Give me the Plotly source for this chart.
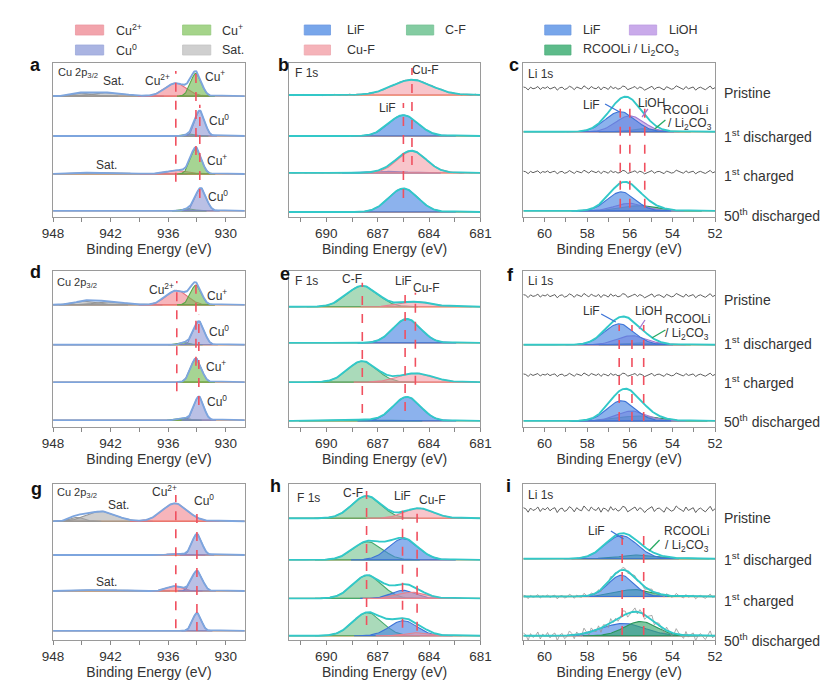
import numpy as np
import plotly.graph_objects as go

W, H = 831, 687
FONT = "Liberation Sans, Arial, sans-serif"

# ---------------- data ----------------
cu_range = [948, 928]
f_range = [692.2, 681]
li_range = [61, 52]
cu_ticks = [948, 945, 942, 939, 936, 933, 930]
cu_ticklabels = ["948", "", "942", "", "936", "", "930"]
f_ticks = [691.5, 690, 688.5, 687, 685.5, 684, 682.5, 681]
f_ticklabels = ["", "690", "", "687", "", "684", "", "681"]
li_ticks = [61, 60, 59, 58, 57, 56, 55, 54, 53, 52]
li_ticklabels = ["", "60", "", "58", "", "56", "", "54", "", "52"]
state_labels = ["Pristine", "1<sup>st</sup> discharged", "1<sup>st</sup> charged", "50<sup>th</sup> discharged"]

# fitted peaks per spectrum (top spectrum first): (species, centre eV, height, sigma eV)
a_offsets = [3.02, 1.97, 0.97, 0.0]
a_peaks = [
    [("Sat", 944.8, 0.08, 1.0), ("Sat", 942.2, 0.09, 1.6), ("Cu2+", 935.2, 0.34, 1.1), ("Cu+", 933.1, 0.60, 0.55)],
    [("Cu+", 933.6, 0.05, 0.5), ("Cu0", 932.7, 0.66, 0.5)],
    [("Sat", 943.0, 0.04, 2.5), ("Cu2+", 935.0, 0.10, 1.1), ("Cu+", 933.1, 0.68, 0.55)],
    [("Cu+", 933.8, 0.06, 0.5), ("Cu0", 932.6, 0.60, 0.55)],
]
a_lines = [(935.2, 0.77, 3.68), (933.1, 1.47, 3.68), (932.7, 0.34, 2.79)]

b_offsets = [3.08, 2.0, 1.03, 0.0]
b_peaks = [
    [("CuF", 685.0, 0.40, 1.15)],
    [("LiF", 685.5, 0.55, 0.85)],
    [("LiF", 686.2, 0.04, 0.8), ("CuF", 685.0, 0.57, 0.85)],
    [("LiF", 685.5, 0.62, 0.85)],
]
b_lines = [(685.5, 0.37, 2.87), (685.0, 1.24, 3.79)]

c_offsets = [3.23, 2.08, 1.02, 0.0]
c_peaks = [
    [],
    [("RCOOLi", 55.3, 0.08, 0.6), ("LiOH", 56.0, 0.42, 0.65), ("LiF", 56.45, 0.53, 0.7)],
    [],
    [("RCOOLi", 55.5, 0.14, 0.8), ("LiOH", 56.0, 0.20, 0.7), ("LiF", 56.4, 0.50, 0.65)],
]
c_lines = [(56.45, 0.08, 2.71), (56.0, 0.08, 2.71), (55.3, 0.08, 2.71)]

d_offsets = [3.03, 1.98, 1.0, 0.0]
d_peaks = [
    [("Sat", 944.5, 0.10, 1.2), ("Sat", 942.0, 0.08, 1.5), ("Cu2+", 935.1, 0.38, 1.1), ("Cu+", 933.1, 0.52, 0.55)],
    [("Cu+", 934.2, 0.06, 0.5), ("Cu0", 932.8, 0.62, 0.55)],
    [("Cu+", 933.1, 0.62, 0.55)],
    [("Cu+", 934.3, 0.05, 0.5), ("Cu0", 932.8, 0.62, 0.5)],
]
d_lines = [(935.1, 0.76, 3.66), (933.1, 1.43, 3.79), (932.8, 0.40, 2.77)]

e_offsets = [3.0, 2.05, 1.02, 0.0]
e_peaks = [
    [("CF", 687.9, 0.55, 0.9), ("CuF", 684.75, 0.13, 0.9)],
    [("LiF", 685.3, 0.63, 0.8)],
    [("CF", 687.9, 0.55, 0.85), ("CuF", 684.8, 0.23, 1.0)],
    [("CF", 688.0, 0.03, 1.0), ("LiF", 685.3, 0.63, 0.8)],
]
e_lines = [(687.9, 0.21, 3.63), (685.4, 0.26, 3.31), (684.8, 0.95, 3.37)]

f_offsets = [3.29, 2.0, 1.21, 0.0]
f_peaks = [
    [],
    [("RCOOLi", 55.3, 0.05, 0.6), ("LiOH", 55.9, 0.24, 0.7), ("LiF", 56.5, 0.55, 0.7)],
    [],
    [("RCOOLi", 55.6, 0.13, 0.9), ("LiOH", 55.9, 0.26, 0.7), ("LiF", 56.4, 0.53, 0.65)],
]
f_lines = [(56.5, 0.0, 2.52), (55.9, 0.0, 2.52), (55.35, 0.0, 2.52)]

g_offsets = [2.89, 2.0, 1.05, 0.0]
g_peaks = [
    [("Sat", 945.5, 0.10, 0.7), ("Sat", 943.0, 0.26, 1.5), ("Cu2+", 935.3, 0.47, 1.3)],
    [("Cu2+", 935.0, 0.03, 0.8), ("Cu0", 933.0, 0.55, 0.5)],
    [("Sat", 943.0, 0.03, 2.0), ("Cu2+", 935.3, 0.13, 0.8), ("Cu0", 933.0, 0.53, 0.55)],
    [("Cu0", 933.0, 0.47, 0.45)],
]
g_lines = [(935.2, 0.07, 3.58), (933.0, 0.0, 3.18)]

h_offsets = [3.05, 1.97, 0.97, 0.0]
h_peaks = [
    [("CF", 687.65, 0.58, 0.85), ("CuF", 684.6, 0.26, 0.85)],
    [("CF", 687.6, 0.47, 0.85), ("LiF", 685.5, 0.55, 0.85)],
    [("CF", 687.6, 0.60, 0.85), ("LiF", 685.5, 0.21, 0.7), ("CuF", 685.0, 0.16, 0.8)],
    [("CF", 687.6, 0.60, 0.85), ("LiF", 685.5, 0.39, 0.8), ("CuF", 684.6, 0.08, 0.7)],
]
h_lines = [(687.65, 0.28, 3.76), (685.55, 0.21, 3.44), (684.7, 0.13, 3.23)]

i_offsets = [3.28, 2.0, 1.02, 0.0]
i_peaks = [
    [],
    [("RCOOLi", 55.5, 0.10, 0.9), ("LiF", 56.4, 0.60, 0.75)],
    [("RCOOLi", 55.8, 0.18, 0.8), ("LiF", 56.4, 0.55, 0.6)],
    [("LiF", 56.3, 0.32, 1.0), ("RCOOLi", 55.5, 0.37, 0.75)],
]
i_lines = [(56.36, 0.02, 2.7), (55.35, 0.02, 2.7)]

# noise amplitude of the raw (grey) trace for each spectrum
a_noise = [0, 0, 0, 0]
b_noise = [0.02, 0, 0.01, 0]
c_noise = [0.06, 0, 0.05, 0]
f_noise = [0.06, 0, 0.05, 0]
i_noise = [0.09, 0, 0.07, 0.14]
NOISE = [0.2, -0.4, 0.9, 0.1, -0.7, -0.2, 0.4, 0.0, -0.9, 0.5, 0.2, -0.3, 0.7, -0.6, -0.1,
         0.3, 1.0, -0.2, -0.5, 0.1, 0.6, -0.8, -0.3, 0.4, 0.2, -0.6, 0.8, 0.3, -0.1, -0.9,
         0.0, 0.5, -0.4, 0.7, 0.2, -0.3, -0.7, 0.6, 0.9, -0.1, -0.5, 0.3, -0.2, 0.8, -0.6,
         0.1, 0.4, -0.8, 0.6, -0.3, 0.0, 0.7, -0.5, 0.2, 1.0, -0.4, -0.1, 0.5, -0.7, 0.3,
         0.8, -0.2, -0.6, 0.4, 0.1, -0.9, 0.5, 0.2, -0.4, 0.6, -0.1, 0.3, -0.6, 0.7, 0.0,
         -0.3, 0.4, -0.8, 0.2, 0.5]

# ---------------- styles ----------------
STY = {
    "Cu2+": ("rgba(240,120,132,0.55)", "rgb(230,110,122)"),
    "Cu+": ("rgba(112,186,80,0.62)", "rgb(90,165,70)"),
    "Cu0": ("rgba(140,150,212,0.6)", "rgb(120,130,200)"),
    "Sat": ("rgba(165,165,165,0.55)", "rgb(150,150,150)"),
    "LiF": ("rgba(70,130,226,0.62)", "rgb(60,115,215)"),
    "CF": ("rgba(100,188,130,0.55)", "rgb(70,170,110)"),
    "CuF": ("rgba(242,150,160,0.55)", "rgb(230,130,142)"),
    "LiOH": ("rgba(180,140,222,0.6)", "rgb(160,120,210)"),
    "RCOOLi": ("rgba(50,165,105,0.62)", "rgb(40,150,90)"),
}
ORANGE = "rgb(245,150,70)"
ENV_CU = "rgb(125,165,222)"
ENV_TEAL = "rgb(50,200,200)"
RED = "rgb(240,80,95)"
GREY_TXT = "#333333"

COLS = [(35, 232), (277, 474), (518, 715)]
ROWS = [(55, 209), (263, 419), (476, 632)]

panels = [
    dict(peaks=a_peaks, off=a_offsets, lines=a_lines, noise=a_noise, kind="cu", yr=[-0.16, 3.89]),
    dict(peaks=b_peaks, off=b_offsets, lines=b_lines, noise=b_noise, kind="f", yr=[-0.13, 3.92]),
    dict(peaks=c_peaks, off=c_offsets, lines=c_lines, noise=c_noise, kind="li", yr=[-0.16, 3.89]),
    dict(peaks=d_peaks, off=d_offsets, lines=d_lines, noise=a_noise, kind="cu", yr=[-0.18, 3.92]),
    dict(peaks=e_peaks, off=e_offsets, lines=e_lines, noise=[0, 0, 0, 0], kind="f", yr=[-0.16, 3.94]),
    dict(peaks=f_peaks, off=f_offsets, lines=f_lines, noise=f_noise, kind="li", yr=[-0.16, 3.94]),
    dict(peaks=g_peaks, off=g_offsets, lines=g_lines, noise=a_noise, kind="cu", yr=[-0.24, 3.87]),
    dict(peaks=h_peaks, off=h_offsets, lines=h_lines, noise=[0, 0, 0, 0], kind="f", yr=[-0.11, 3.94]),
    dict(peaks=i_peaks, off=i_offsets, lines=i_lines, noise=i_noise, kind="li", yr=[-0.11, 3.94]),
]
AX = {"cu": (cu_range, cu_ticks, cu_ticklabels),
      "f": (f_range, f_ticks, f_ticklabels),
      "li": (li_range, li_ticks, li_ticklabels)}


def gauss(x, c, h, s):
    return h * np.exp(-(x - c) ** 2 / (2 * s ** 2))


fig = go.Figure()
shapes = []
annotations = []


def px(x):
    return x / W


def py(y):
    return 1 - y / H


def text(x, y, t, size=12, xanchor="center", bold=False, color=GREY_TXT):
    if bold:
        t = "<b>" + t + "</b>"
    annotations.append(dict(x=px(x), y=py(y), xref="paper", yref="paper", text=t, showarrow=False,
                            xanchor=xanchor, yanchor="middle", font=dict(size=size, color=color, family=FONT)))


for k, P in enumerate(panels, start=1):
    xa = "x" if k == 1 else f"x{k}"
    ya = "y" if k == 1 else f"y{k}"
    rng, tv, tt = AX[P["kind"]]
    lo, hi = min(rng), max(rng)
    grid = np.linspace(lo, hi, 500)
    env_col = ENV_CU if P["kind"] == "cu" else ENV_TEAL
    for peaks, off, namp in zip(P["peaks"], P["off"], P["noise"]):
        env = np.zeros_like(grid)
        for (sp, c, h, s) in peaks:
            env += gauss(grid, c, h, s)
        if peaks:
            fig.add_trace(go.Scatter(x=[lo, hi], y=[off, off], mode="lines",
                                     line=dict(color=ORANGE, width=1.4), xaxis=xa, yaxis=ya, hoverinfo="skip"))
        for (sp, c, h, s) in peaks:
            gx = np.linspace(max(lo, c - 3.6 * s), min(hi, c + 3.6 * s), 100)
            gy = off + gauss(gx, c, h, s)
            fc, lc = STY[sp]
            fig.add_trace(go.Scatter(x=np.r_[gx, gx[::-1]], y=np.r_[gy, np.full_like(gx, off)],
                                     fill="toself", fillcolor=fc, mode="lines",
                                     line=dict(color=lc, width=1.1), xaxis=xa, yaxis=ya, hoverinfo="skip"))
        if namp > 0:
            nx = np.linspace(lo, hi, len(NOISE))
            ny = off + namp * np.array(NOISE)
            for (sp, c, h, s) in peaks:
                ny = ny + gauss(nx, c, h, s)
            ncol = "rgb(95,95,95)" if not peaks else "rgba(150,150,150,0.8)"
            fig.add_trace(go.Scatter(x=nx, y=ny, mode="lines", line=dict(color=ncol, width=1),
                                     xaxis=xa, yaxis=ya, hoverinfo="skip"))
        if peaks:
            fig.add_trace(go.Scatter(x=grid, y=off + env, mode="lines",
                                     line=dict(color=env_col, width=1.9), xaxis=xa, yaxis=ya, hoverinfo="skip"))
    for (xv, y0, y1) in P["lines"]:
        shapes.append(dict(type="line", xref=xa, yref=ya, x0=xv, x1=xv, y0=y0, y1=y1,
                           line=dict(color=RED, width=1.6, dash="dash")))
    col = COLS[(k - 1) % 3]
    row = ROWS[(k - 1) // 3]
    fig.layout[f"xaxis{'' if k == 1 else k}"] = dict(
        domain=[px(col[0]), px(col[1])], range=rng, anchor=ya, tickvals=tv, ticktext=tt,
        ticks="outside", ticklen=4, tickcolor="#888", showline=True, mirror=True,
        linecolor="#9a9a9a", linewidth=1, showgrid=False, zeroline=False,
        tickfont=dict(size=13.5, color=GREY_TXT, family=FONT),
        title=dict(text="Binding Energy (eV)", font=dict(size=14, color=GREY_TXT, family=FONT), standoff=2),
        fixedrange=True)
    fig.layout[f"yaxis{'' if k == 1 else k}"] = dict(
        domain=[py(row[1]), py(row[0])], range=P["yr"], anchor=xa, showticklabels=False,
        ticks="", showline=True, mirror=True, linecolor="#9a9a9a", linewidth=1,
        showgrid=False, zeroline=False, fixedrange=True)

# ---------------- legends ----------------
def swatch(x0, x1, yc, color, edge):
    shapes.append(dict(type="rect", xref="paper", yref="paper", x0=px(x0), x1=px(x1),
                       y0=py(yc + 5), y1=py(yc - 5), fillcolor=color, line=dict(color=edge, width=0.8)))

swatch(58, 87, 22, "#f2a4ac", "#eb98a1"); text(98, 22, "Cu<sup>2+</sup>", 12.5, "left")
swatch(168, 197, 22, "#a5d48a", "#96c97c"); text(206, 22, "Cu<sup>+</sup>", 12.5, "left")
swatch(58, 87, 42, "#aab4e2", "#9ca8da"); text(98, 42, "Cu<sup>0</sup>", 12.5, "left")
swatch(168, 197, 42, "#cfcfcf", "#c4c4c4"); text(206, 42, "Sat.", 12.5, "left")
swatch(293, 320, 22, "#78a6ea", "#6e9be2"); text(335, 22, "LiF", 12.5, "left")
swatch(398, 426, 22, "#84cca2", "#76c196"); text(436, 22, "C-F", 12.5, "left")
swatch(293, 320, 42, "#f5b3b9", "#eea8ae"); text(335, 42, "Cu-F", 12.5, "left")
swatch(540, 567, 22, "#78a6ea", "#6e9be2"); text(577, 22, "LiF", 12.5, "left")
swatch(627, 655, 22, "#c9aaea", "#bd9ce2"); text(666, 22, "LiOH", 12.5, "left")
swatch(540, 567, 42, "#5dbb8a", "#52b07f"); text(577, 42, "RCOOLi / Li<sub>2</sub>CO<sub>3</sub>", 12.5, "left")

# ---------------- panel letters ----------------
for (x, y, t) in [(17, 57, "a"), (272, 57, "b"), (508, 57, "c"), (17, 264, "d"), (273, 266, "e"),
                  (505, 267, "f"), (18, 481, "g"), (263, 478, "h"), (503, 478, "i")]:
    text(x, y, t, 18, "center", bold=True, color="#111")

# ---------------- in-panel labels ----------------
S = 12
for (x, y) in [(38, 65), (37, 275), (37, 485)]:
    text(x, y, "Cu 2p<sub>3/2</sub>", 11, "left")
for (x, y) in [(281, 65), (281, 273), (283, 490)]:
    text(x, y, "F 1s", S, "left")
for (x, y) in [(521, 66), (521, 273), (521, 487)]:
    text(x, y, "Li 1s", S, "left")
# a
text(97, 73, "Sat.", S); text(142, 72, "Cu<sup>2+</sup>", S); text(201, 68, "Cu<sup>+</sup>", S)
text(205, 112, "Cu<sup>0</sup>", S); text(90, 157, "Sat.", S); text(203, 152, "Cu<sup>+</sup>", S)
text(204, 188, "Cu<sup>0</sup>", S)
# b
text(418, 62, "Cu-F", S); text(379, 100, "LiF", S)
# c
text(588, 97, "LiF", S); text(650, 95, "LiOH", S); text(685, 102, "RCOOLi", S)
text(689, 116, "/ Li<sub>2</sub>CO<sub>3</sub>", S)
# d
text(146, 281, "Cu<sup>2+</sup>", S); text(203, 287, "Cu<sup>+</sup>", S); text(205, 323, "Cu<sup>0</sup>", S)
text(202, 358, "Cu<sup>+</sup>", S); text(203, 393, "Cu<sup>0</sup>", S)
# e
text(342, 271, "C-F", S); text(395, 273, "LiF", S); text(419, 280, "Cu-F", S)
# f
text(588, 303, "LiF", S); text(647, 303, "LiOH", S); text(687, 311, "RCOOLi", S)
text(686, 326, "/ Li<sub>2</sub>CO<sub>3</sub>", S)
# g
text(102, 497, "Sat.", S); text(149, 483, "Cu<sup>2+</sup>", S); text(190, 492, "Cu<sup>0</sup>", S)
text(90, 574, "Sat.", S)
# h
text(343, 485, "C-F", S); text(394, 488, "LiF", S); text(425, 492, "Cu-F", S)
# i
text(593, 523, "LiF", S); text(686, 523, "RCOOLi", S); text(686, 538, "/ Li<sub>2</sub>CO<sub>3</sub>", S)

# pointer lines
def pointer(x0, y0, x1, y1, color):
    shapes.append(dict(type="line", xref="paper", yref="paper", x0=px(x0), y0=py(y0), x1=px(x1), y1=py(y1),
                       line=dict(color=color, width=1.3)))

pointer(602, 96, 617, 104, "rgb(60,115,215)"); pointer(646, 101, 640, 109, "rgb(160,120,210)")
pointer(664, 112, 653, 121, "rgb(40,170,100)")
pointer(598, 306, 613, 314, "rgb(60,115,215)"); pointer(643, 312, 637, 321, "rgb(160,120,210)")
pointer(664, 322, 650, 330, "rgb(40,170,100)")
pointer(608, 523, 621, 531, "rgb(60,115,215)"); pointer(658, 532, 647, 543, "rgb(40,170,100)")

# state labels on the right
for ys in [(85, 128, 167, 207), (292, 335, 374, 413), (510, 551, 592, 632)]:
    for yy, lab in zip(ys, state_labels):
        text(722, yy, lab, 14, "left")

fig.update_layout(width=W, height=H, margin=dict(l=0, r=0, t=0, b=0), showlegend=False,
                  paper_bgcolor="white", plot_bgcolor="white", shapes=shapes, annotations=annotations,
                  font=dict(family=FONT, color=GREY_TXT))
fig.write_html("out.html")
